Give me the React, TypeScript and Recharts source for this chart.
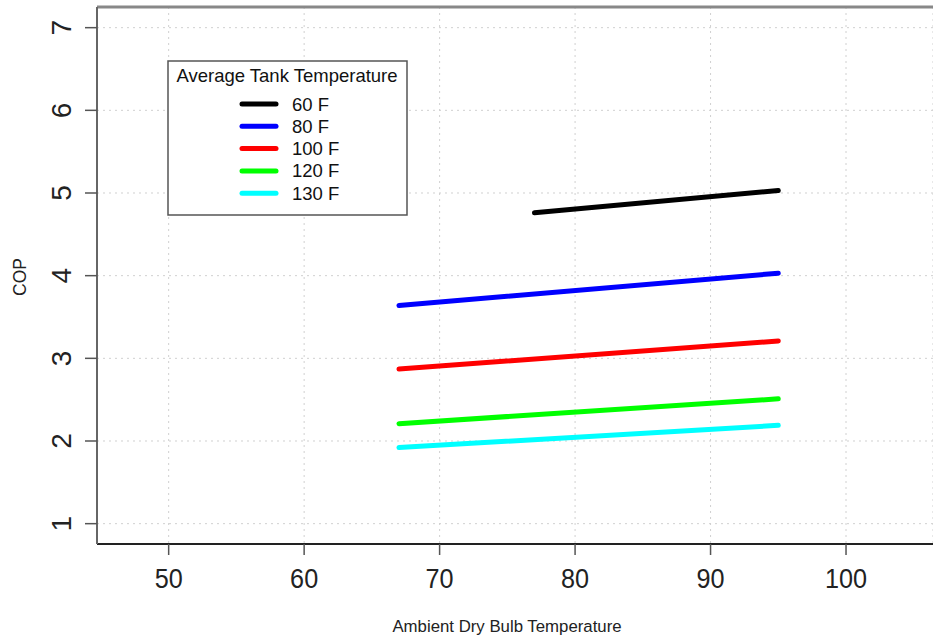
import React from 'react';
import { LineChart, Line, XAxis, YAxis, CartesianGrid, ReferenceLine } from 'recharts';

const ambientFull = [67, 95];
const ambient60 = [77, 95];
const cop60 = [4.76, 5.03];
const cop80 = [3.64, 4.03];
const cop100 = [2.87, 3.21];
const cop120 = [2.21, 2.51];
const cop130 = [1.92, 2.19];
const tankLabels = ['60 F', '80 F', '100 F', '120 F', '130 F'];
const seriesColors = ['#000000', '#0000ff', '#ff0000', '#00ff00', '#00ffff'];
const xTicks = [50, 60, 70, 80, 90, 100];
const yTicks = [1, 2, 3, 4, 5, 6, 7];

const toRows = (xs: number[], ys: number[]) => xs.map((t, i) => ({ temp: t, cop: ys[i] }));
const seriesData = [
  toRows(ambient60, cop60),
  toRows(ambientFull, cop80),
  toRows(ambientFull, cop100),
  toRows(ambientFull, cop120),
  toRows(ambientFull, cop130),
];

const FONT = '"Liberation Sans", Arial, Helvetica, sans-serif';

const XTick = (props: any) => {
  const { x, y, payload } = props;
  return (
    <text x={x} y={y + 31} textAnchor="middle" fontSize={28} fontFamily={FONT} fill="#222" transform={`translate(${x},${y + 21}) scale(0.9,1) translate(${-x},${-(y + 21)})`}>
      {payload.value}
    </text>
  );
};

const YTick = (props: any) => {
  const { y, payload } = props;
  const cx = 71;
  return (
    <text x={cx} y={y} textAnchor="middle" fontSize={28} fontFamily={FONT} fill="#222" transform={`rotate(-90, ${cx}, ${y})`}>
      {payload.value}
    </text>
  );
};

const LegendBox = () => (
  <svg width={242} height={157} style={{ display: 'block' }}>
    <rect x={1} y={1} width={239} height={154} fill="#fff" stroke="#555" strokeWidth={1.5} />
    <text x={120} y={22} textAnchor="middle" fontSize={18.5} fontFamily={FONT} fill="#111">
      Average Tank Temperature
    </text>
    {tankLabels.map((lab, i) => (
      <g key={lab}>
        <line x1={75} x2={109} y1={44 + i * 22.3} y2={44 + i * 22.3} stroke={seriesColors[i]} strokeWidth={5} strokeLinecap="round" />
        <text x={125} y={50.5 + i * 22.3} fontSize={18.5} fontFamily={FONT} fill="#111">
          {lab}
        </text>
      </g>
    ))}
  </svg>
);

export default function App() {
  return (
    <div style={{ position: 'absolute', left: 0, top: 0, width: 933, height: 637, background: '#fff' }}>
      <LineChart width={933} height={637} margin={{ top: 7, right: 0, left: 0, bottom: 0 }}>
        <CartesianGrid stroke="#d0d0d0" strokeDasharray="2 4" strokeWidth={1} />
        <XAxis
          dataKey="temp"
          type="number"
          domain={[44.71, 106.42]}
          ticks={xTicks}
          allowDataOverflow
          height={93}
          tick={<XTick />}
          tickSize={11}
          tickLine={{ stroke: '#555', strokeWidth: 1.5 }}
          axisLine={{ stroke: '#222', strokeWidth: 2 }}
          label={{
            content: () => (
              <text x={507} y={632} textAnchor="middle" fontSize={16.8} fontFamily={FONT} fill="#222">
                Ambient Dry Bulb Temperature
              </text>
            ),
          }}
        />
        <YAxis
          dataKey="cop"
          type="number"
          domain={[0.754, 7.25]}
          ticks={yTicks}
          allowDataOverflow
          width={97}
          tick={<YTick />}
          tickSize={12}
          tickLine={{ stroke: '#555', strokeWidth: 1.5 }}
          axisLine={{ stroke: '#666', strokeWidth: 2 }}
          label={{
            content: () => (
              <text x={26} y={277} textAnchor="middle" fontSize={17.5} fontFamily={FONT} fill="#222" transform="rotate(-90, 26, 277)">
                COP
              </text>
            ),
          }}
        />
        <ReferenceLine y={7.25} stroke="#888" strokeWidth={3} />
        {seriesData.map((d, i) => (
          <Line
            key={tankLabels[i]}
            data={d}
            dataKey="cop"
            name={tankLabels[i]}
            stroke={seriesColors[i]}
            strokeWidth={5}
            strokeLinecap="round"
            dot={false}
            activeDot={false}
            isAnimationActive={false}
          />
        ))}
      </LineChart>
      <div style={{ position: 'absolute', left: 167, top: 60 }}>
        <LegendBox />
      </div>
    </div>
  );
}
